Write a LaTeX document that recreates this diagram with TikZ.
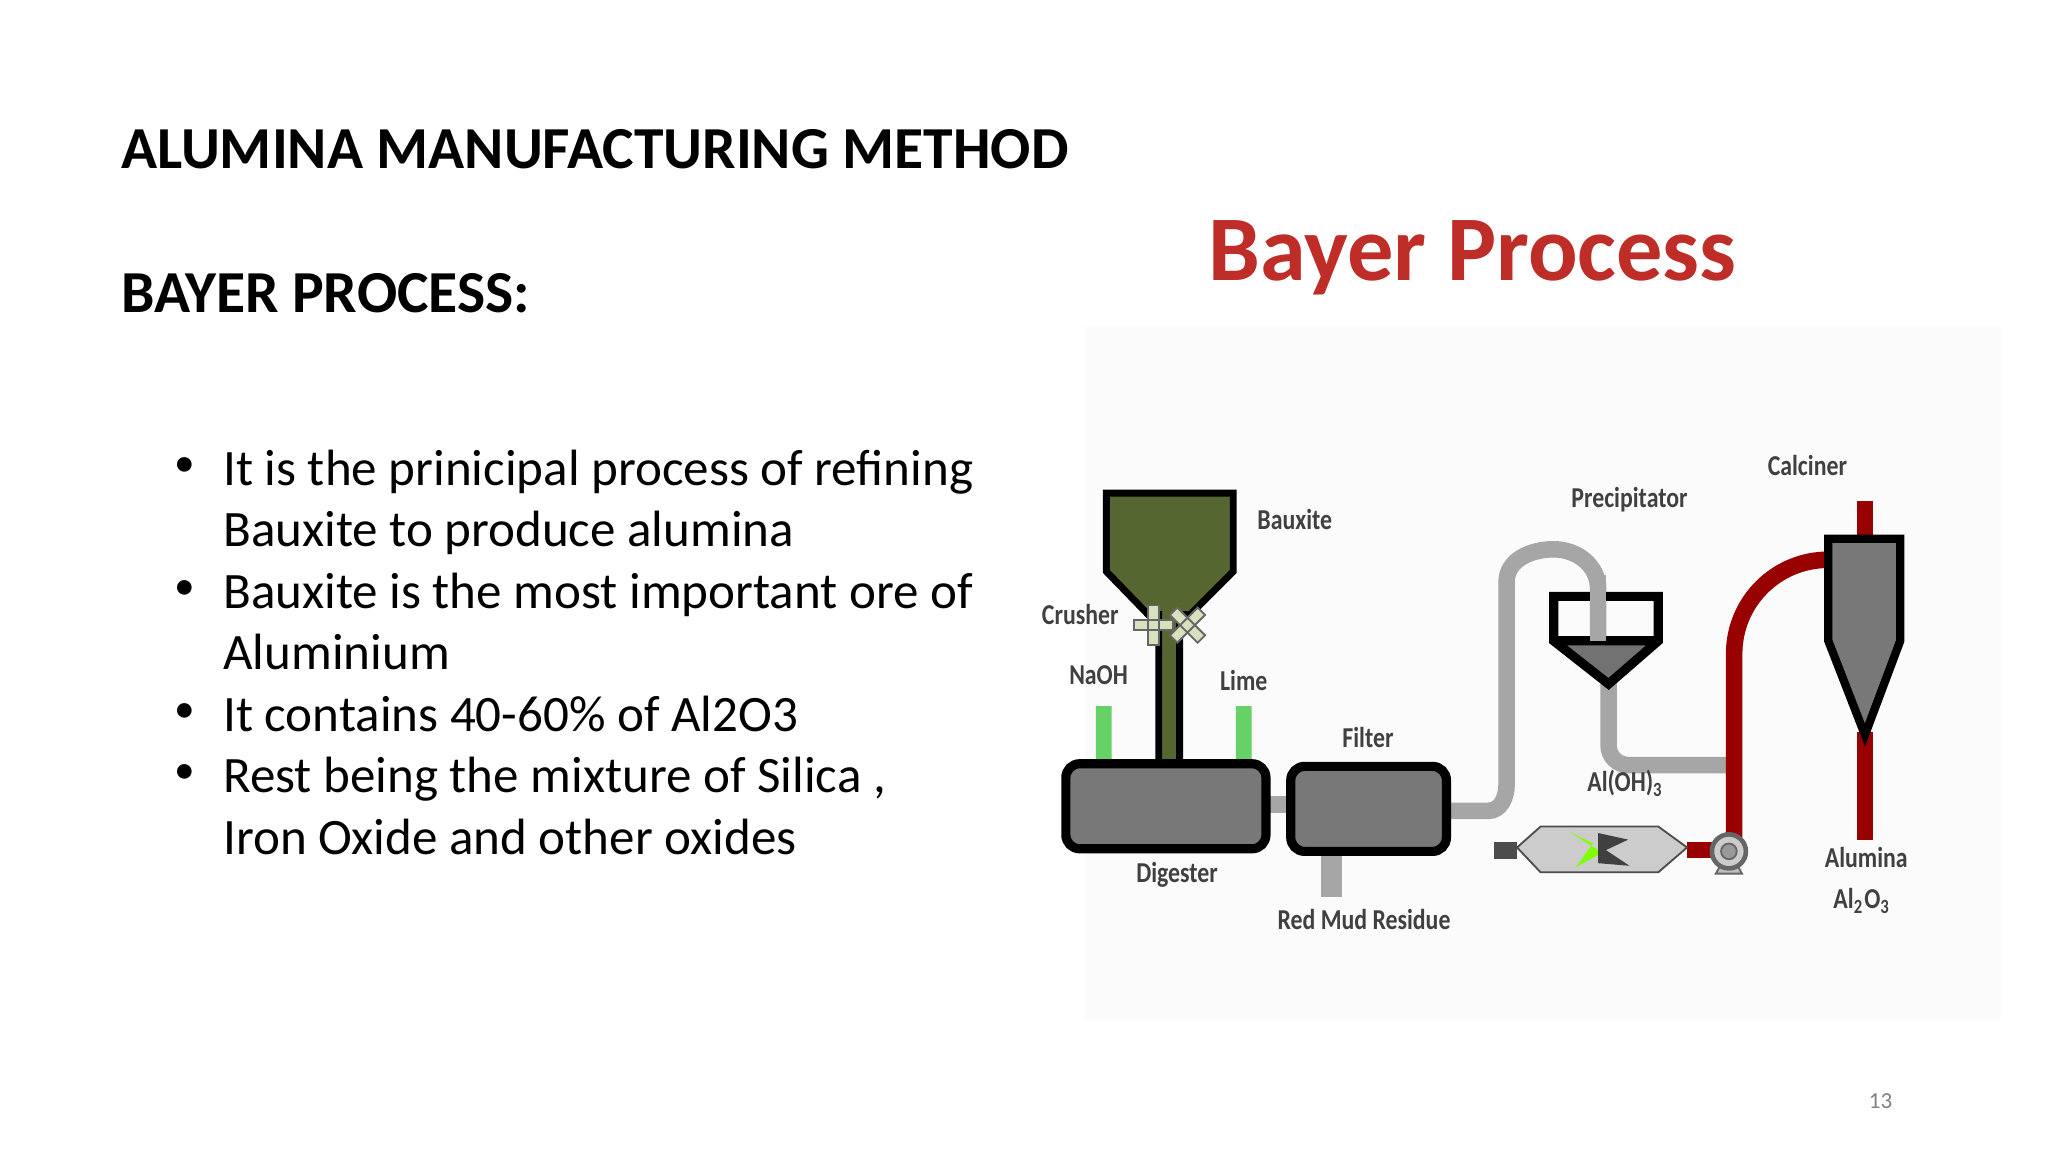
\documentclass[tikz,border=0pt]{standalone}
\usepackage{fontspec}
\setmainfont{Carlito}
\begin{document}
\begin{tikzpicture}[x=0.01cm,y=-0.01cm,
 lbl/.style={font=\fontsize{5.45pt}{6pt}\selectfont\bfseries,text=black!75,yscale=1.15,xscale=0.95},
 bul/.style={font=\fontsize{11.1pt}{13.4pt}\selectfont,anchor=base west,inner sep=0pt},
 ttl/.style={font=\fontsize{12.95pt}{13pt}\selectfont\bfseries,anchor=west,inner sep=0pt},
 eq/.style={draw=black,line width=2pt,fill=gray!75!black!85,rounded corners=3pt},
 gp/.style={draw=gray!70,line width=3.6pt,line cap=butt},
 rp/.style={draw=red!60!black,line width=3.6pt}]
\useasboundingbox (0,0) rectangle (1566,881);
\fill[white] (0,0) rectangle (1566,881);
\fill[black!1.5] (830,250) rectangle (1530,780);
\node[ttl] (t1) at (92,114) {ALUMINA MANUFACTURING METHOD};
\node[ttl] (t2) at (92,224) {BAYER PROCESS:};
\foreach \y/\t in {360/{It is the prinicipal process of refining},407/{Bauxite to produce alumina},454/{Bauxite is the most important ore of},501/{Aluminium},548/{It contains 40-60\% of Al2O3},595/{Rest being the mixture of Silica ,},642/{Iron Oxide and other oxides}}{\node[bul] at (170,\y+11) {\t};}
\foreach \y in {357,451,545,592}{\node[font=\fontsize{9pt}{12pt}\selectfont] at (141,\y) {•};}
\node[font=\fontsize{20.1pt}{22pt}\selectfont\bfseries,text={rgb,255:red,190;green,45;blue,40}] (bp) at (1126,197) {Bayer Process};
% pipes
\draw[gp] (1106,620) -- (1138,620) to[out=0,in=-90] (1152,600) -- (1152,445) to[out=90,in=180] (1188,420) to[out=0,in=90] (1222,450) -- (1222,515);
\draw[gp] (1230,520) -- (1230,570) to[out=-90,in=180] (1245,585) -- (1322,585);
\draw[gp] (968,615) -- (987,615);
\draw[gp,line width=4.5pt] (1018,650) -- (1018,686);
\draw[rp] (1326,640) -- (1326,500) to[out=90,in=180] (1398,428);
\draw[rp] (1426,383) -- (1426,412);
\draw[rp] (1426,560) -- (1426,642);
\draw[rp] (1290,650) -- (1312,650);
% hopper
\fill[draw=black,line width=1.5pt,fill={rgb,255:red,85;green,102;blue,48}] (846,377) -- (943,377) -- (943,437) -- (910,470) -- (902,470) -- (902,585) -- (886,585) -- (886,470) -- (878,470) -- (846,437) -- cycle;
\foreach \cx/\r in {882/0,908/45}{\fill[draw=black!60,fill={rgb,255:red,215;green,225;blue,190},rotate around={\r:(\cx,478)}] (\cx-4,463) rectangle (\cx+4,493) (\cx-15,474) rectangle (\cx+15,482);}
\fill[green!70!black!60] (838,540) rectangle (850,583) (945,540) rectangle (957,583);
% digester & filter
\draw[eq] (815,584) rectangle (968,649);
\draw[eq] (987,586) rectangle (1106,651);
% precipitator
\fill[gray!70!black!85] (1190,490) -- (1266,490) -- (1230,523) -- cycle;
\draw[black,line width=2pt] (1188,456) -- (1268,456) -- (1268,490) -- (1230,523) -- (1188,490) -- cycle (1188,490) -- (1268,490);
\draw[gp] (1222,440) -- (1222,490);
% calciner
\filldraw[draw=black,line width=1.8pt,fill=gray!75!black!85] (1398,412) -- (1453,412) -- (1453,490) -- (1426,562) -- (1398,490) -- cycle;
% kiln
\filldraw[draw=black!70,fill=black!20] (1178,632) -- (1268,632) -- (1290,648) -- (1268,667) -- (1178,667) -- (1160,648) -- cycle;
\fill[black!70] (1142,644) rectangle (1160,657);
\fill[green!50!yellow] (1200,636) -- (1218,645) -- (1205,663) -- (1225,652) -- cycle;
\fill[black!75] (1222,637) -- (1245,642) -- (1228,650) -- (1246,662) -- (1222,660) -- cycle;
\filldraw[draw=black!60,fill=black!25] (1312,668) -- (1322,650) -- (1332,668) -- cycle;
\filldraw[draw=black!60,fill=black!20,line width=1pt] (1322,651) circle (13);
\filldraw[draw=black!60,fill=black!40] (1322,651) circle (6);
% labels
\node[lbl] at (990,397) {Bauxite};
\node[lbl] at (826,470) {Crusher};
\node[lbl] at (840,516) {NaOH};
\node[lbl] at (951,520) {Lime};
\node[lbl] at (1046,564) {Filter};
\node[lbl] at (900,669) {Digester};
\node[lbl] at (1043,703) {Red Mud Residue};
\node[lbl] at (1246,382) {Precipitator};
\node[lbl] at (1382,356) {Calciner};
\node[lbl] at (1243,599) {Al(OH)\textsubscript{3}};
\node[lbl] at (1427,656) {Alumina};
\node[lbl] at (1424,689) {Al\textsubscript{2}O\textsubscript{3}};
\node[font=\fontsize{5pt}{6pt}\selectfont,text=black!50] at (1438,842) {13};
\end{tikzpicture}
\end{document}
